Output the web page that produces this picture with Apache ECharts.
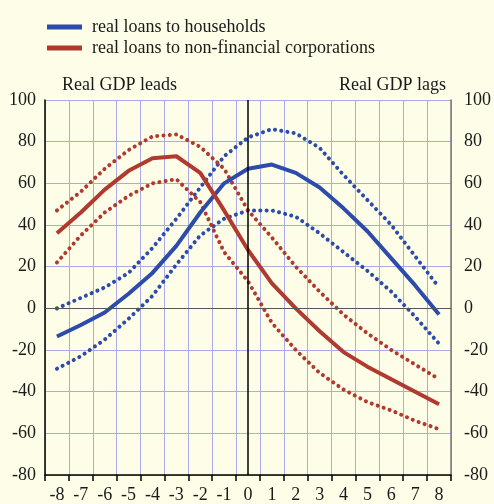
<!DOCTYPE html>
<html><head><meta charset="utf-8">
<script src="https://cdn.jsdelivr.net/npm/echarts@6/dist/echarts.min.js"></script>
<style>html,body{margin:0;padding:0;background:#FEFDE8;}#c{width:494px;height:504px;}</style>
</head><body><div id="c"></div>
<script>
const categories = ['-8','-7','-6','-5','-4','-3','-2','-1','0','1','2','3','4','5','6','7','8'];
const households = [-13.5, -8, -2, 7, 17, 30, 46, 60, 67, 69, 65, 58, 48, 37, 24, 11, -3];
const householdsUpper = [0, 5, 10, 17, 29, 43, 58, 73, 82, 86, 84, 77, 64, 52, 40, 25, 10];
const householdsLower = [-29, -23, -15, -5, 6, 21, 35, 43, 47, 47, 44, 36, 27, 18, 8, -4, -17];
const corporations = [36, 46, 57, 66, 72, 73, 65, 47, 28, 12, 0, -11, -21, -28, -34, -40, -46];
const corporationsUpper = [47, 56, 67, 76, 82.5, 83.5, 77.5, 67, 47, 34, 20, 8, -3, -12, -20, -27, -34];
const corporationsLower = [22, 35, 46, 54, 60, 62, 51, 27, 13, -7, -20, -31, -39, -45, -49, -54, -58];
const yTicks = {min: -80, max: 100, interval: 20};

const BLUE = '#2D4BAA', RED = '#B03A2E', GRID = '#A9ABE6';
const FONT = 'Liberation Serif';
const FS = 18;
const chart = echarts.init(document.getElementById('c'), null, {renderer: 'canvas'});
const dotted = (name, data, color) => ({
  name, type: 'line', data, symbol: 'none', silent: true, z: 3,
  itemStyle: {color},
  lineStyle: {color, width: 4, type: [0.1, 6.2], cap: 'round'}
});
const solid = (name, data, color) => ({
  name, type: 'line', data, symbol: 'none', silent: true, z: 4,
  itemStyle: {color},
  lineStyle: {color, width: 4}
});
const yAxisBase = {
  type: 'value', min: yTicks.min, max: yTicks.max, interval: yTicks.interval,
  axisTick: {show: false},
  axisLabel: {fontFamily: FONT, fontSize: FS, color: '#1a1a1a'},
};
chart.setOption({
  backgroundColor: '#FEFDE8',
  animation: false,
  grid: {left: 45, right: 41, top: 100, bottom: 27},
  legend: {
    data: ['real loans to households', 'real loans to non-financial corporations'],
    orient: 'vertical', left: 42, top: 13, itemWidth: 35, itemHeight: 5, itemGap: 3,
    icon: 'rect',
    textStyle: {fontFamily: FONT, fontSize: FS, color: '#1a1a1a', padding: [0, 0, 0, 5]}
  },
  xAxis: {
    type: 'category', data: categories, boundaryGap: true,
    axisLine: {show: true, onZero: false, lineStyle: {color: '#000', width: 1.5}},
    axisTick: {show: true, length: 6, lineStyle: {color: '#000', width: 1.5}},
    axisLabel: {fontFamily: FONT, fontSize: FS, color: '#1a1a1a', margin: 11, interval: 0},
    splitLine: {show: true, lineStyle: {color: GRID, width: 1}}
  },
  yAxis: [
    Object.assign({}, yAxisBase, {position: 'left',
      axisLine: {show: true, lineStyle: {color: '#000', width: 1.5}},
      axisLabel: Object.assign({}, yAxisBase.axisLabel, {margin: 9}),
      splitLine: {show: true, lineStyle: {color: GRID, width: 1}}}),
    Object.assign({}, yAxisBase, {position: 'right',
      axisLine: {show: true, lineStyle: {color: '#777', width: 1.5}},
      axisLabel: Object.assign({}, yAxisBase.axisLabel, {margin: 13}),
      splitLine: {show: false}})
  ],
  graphic: [
    {type: 'text', left: 62, top: 76, style: {text: 'Real GDP leads', font: FS + 'px "Liberation Serif"', fill: '#1a1a1a'}},
    {type: 'text', left: 339, top: 76, style: {text: 'Real GDP lags', font: FS + 'px "Liberation Serif"', fill: '#1a1a1a'}}
  ],
  series: [
    Object.assign(solid('zero', [], '#000'), {
      markLine: {silent: true, symbol: 'none', label: {show: false},
        data: [
          {yAxis: 0, lineStyle: {color: '#555', width: 1.2, type: 'solid'}},
          {xAxis: '0', lineStyle: {color: '#000', width: 1.5, type: 'solid'}}
        ]}
    }),
    dotted('hhUp', householdsUpper, BLUE),
    dotted('hhLo', householdsLower, BLUE),
    dotted('nfcUp', corporationsUpper, RED),
    dotted('nfcLo', corporationsLower, RED),
    solid('real loans to households', households, BLUE),
    solid('real loans to non-financial corporations', corporations, RED)
  ]
});
</script></body></html>
